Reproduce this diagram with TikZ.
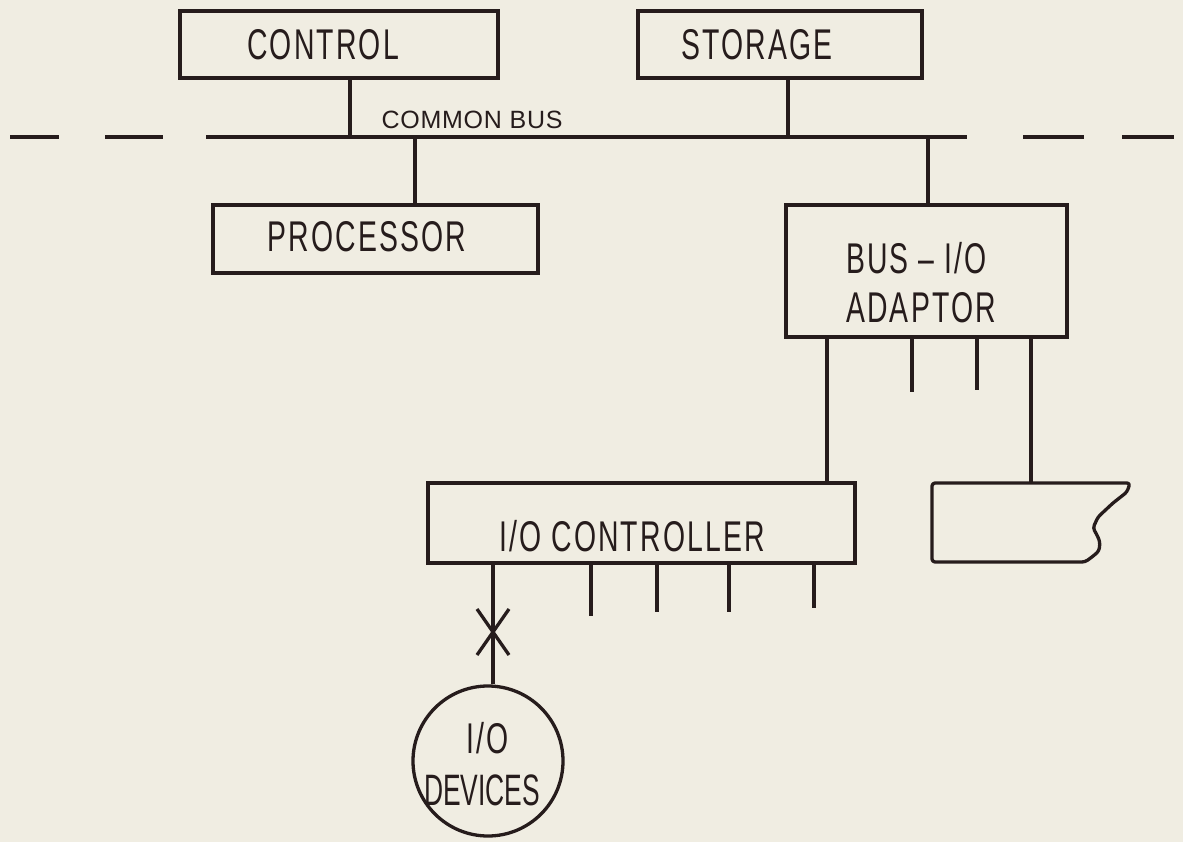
\documentclass[tikz,border=0pt]{standalone}
\usepackage{fontspec}
\usetikzlibrary{calc}
\newfontfamily\lblfont[FakeStretch=0.66,LetterSpace=5]{Liberation Sans}
\newfontfamily\devfont[FakeStretch=0.6]{Liberation Sans}
\newfontfamily\busfont[LetterSpace=3]{Liberation Sans}
\definecolor{paper}{RGB}{240,237,226}
\definecolor{ink}{RGB}{38,28,28}
\begin{document}
\begin{tikzpicture}[x=1pt,y=-1pt,
  box/.style={draw=ink, line width=3.3pt, rectangle, inner sep=0pt},
  wire/.style={draw=ink, line width=3.3pt},
  lbl/.style={text=ink, inner sep=0pt, anchor=base, font=\lblfont\fontsize{43}{46}\selectfont},
  devlbl/.style={text=ink, inner sep=0pt, anchor=base, font=\devfont\fontsize{44}{46}\selectfont},
  buslbl/.style={text=ink, inner sep=0pt, anchor=base, font=\busfont\fontsize{25}{28}\selectfont}]
\useasboundingbox[fill=paper] (0,0) rectangle (1183,842);

% boxes
\node[box, minimum width=318pt, minimum height=67pt] (ctrl) at (339,44.5) {};
\node[box, minimum width=284pt, minimum height=67pt] (stor) at (780,44.5) {};
\node[box, minimum width=325pt, minimum height=68pt] (proc) at (375.5,239) {};
\node[box, minimum width=281pt, minimum height=132pt] (adap) at (926.5,271) {};
\node[box, minimum width=427pt, minimum height=80pt] (ioc) at (641.5,523) {};
\node[draw=ink, line width=3.3pt, circle, minimum size=150pt, inner sep=0pt] (dev) at (488,761) {};

% labels
\node[lbl] (tctrl) at (323,59.5) {CONTROL};
\node[lbl] (tstor) at (757,59.5) {STORAGE};
\node[buslbl] (tbus) at (472,129) {COMMON BUS};
\node[lbl] (tproc) at (367,252) {PROCESSOR};
\node[lbl, anchor=base west] (tadap1) at (846,273) {BUS – I/O};
\node[lbl, anchor=base west] (tadap2) at (846,323) {ADAPTOR};
\node[lbl] (tioc) at (632,551) {I/O CONTROLLER};
\node[lbl] (tdev1) at (488,753) {I/O};
\node[devlbl] (tdev2) at (482,805) {DEVICES};

% bus
\coordinate (busL) at (206,137);
\coordinate (busR) at (967,137);
\draw[wire] (busL) -- (busR);
\draw[wire] (10,137) -- (59,137);
\draw[wire] (105,137) -- (163,137);
\draw[wire] (1023,137) -- (1084,137);
\draw[wire] (1122,137) -- (1174,137);

% taps on the bus
\coordinate (tapC) at (350,137);
\coordinate (tapS) at (788,137);
\coordinate (tapP) at (415,137);
\coordinate (tapA) at (928,137);
\draw[wire] (ctrl.south -| tapC) -- (tapC);
\draw[wire] (stor.south -| tapS) -- (tapS);
\draw[wire] (tapP) -- (proc.north -| tapP);
\draw[wire] (tapA) -- (adap.north -| tapA);

% cut-off box
\coordinate (cutTop) at (1031,483);
\draw[wire, line join=round, rounded corners=3pt]
  (932,483) -- (1130,483) -- (1127,492) -- (1113,503) -- (1098,517) -- (1093,528)
  -- (1097,535) -- (1100,542) -- (1099,551) -- (1092,557) -- (1085,562)
  -- (932,562) -- cycle;

% adaptor legs
\coordinate (aleg2) at (912,392);
\coordinate (aleg3) at (977,390);
\draw[wire] (adap.south -| 827,0) -- (ioc.north -| 827,0);
\draw[wire] (adap.south -| aleg2) -- (aleg2);
\draw[wire] (adap.south -| aleg3) -- (aleg3);
\draw[wire] (adap.south -| cutTop) -- (cutTop);

% controller legs
\coordinate (cleg2) at (591,616);
\coordinate (cleg3) at (657,612);
\coordinate (cleg4) at (729,612);
\coordinate (cleg5) at (814,608);
\draw[wire] (ioc.south -| 493,0) -- (dev.north -| 493,0);
\draw[wire] (ioc.south -| cleg2) -- (cleg2);
\draw[wire] (ioc.south -| cleg3) -- (cleg3);
\draw[wire] (ioc.south -| cleg4) -- (cleg4);
\draw[wire] (ioc.south -| cleg5) -- (cleg5);

% break mark
\coordinate (xm) at (493,632);
\draw[wire] ($(xm)+(-16,-23)$) -- ($(xm)+(16,23)$);
\draw[wire] ($(xm)+(16,-23)$) -- ($(xm)+(-16,23)$);
\end{tikzpicture}
\end{document}
